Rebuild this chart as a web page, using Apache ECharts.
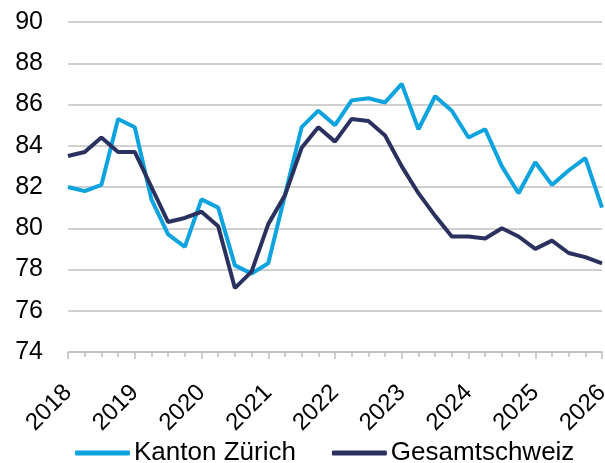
<!DOCTYPE html>
<html>
<head>
<meta charset="utf-8">
<script src="https://cdn.jsdelivr.net/npm/echarts@6/dist/echarts.min.js"></script>
<style>
  html, body { margin: 0; padding: 0; background: #fff; }
  #chart { width: 605px; height: 463px; }
</style>
</head>
<body>
<div id="chart"></div>
<script>
// Quartale 2018 Q1 bis 2026 Q1
var quarters = [
  '2018', '2018Q2', '2018Q3', '2018Q4',
  '2019', '2019Q2', '2019Q3', '2019Q4',
  '2020', '2020Q2', '2020Q3', '2020Q4',
  '2021', '2021Q2', '2021Q3', '2021Q4',
  '2022', '2022Q2', '2022Q3', '2022Q4',
  '2023', '2023Q2', '2023Q3', '2023Q4',
  '2024', '2024Q2', '2024Q3', '2024Q4',
  '2025', '2025Q2', '2025Q3', '2025Q4',
  '2026'
];
var kantonZuerich = [
  82.0, 81.8, 82.1, 85.3,
  84.9, 81.4, 79.7, 79.1,
  81.4, 81.0, 78.2, 77.8,
  78.3, 81.6, 84.9, 85.7,
  85.0, 86.2, 86.3, 86.1,
  87.0, 84.8, 86.4, 85.7,
  84.4, 84.8, 83.0, 81.7,
  83.2, 82.1, 82.8, 83.4,
  81.0
];
var gesamtschweiz = [
  83.5, 83.7, 84.4, 83.7,
  83.7, 82.0, 80.3, 80.5,
  80.8, 80.1, 77.1, 77.9,
  80.2, 81.6, 83.9, 84.9,
  84.2, 85.3, 85.2, 84.5,
  83.0, 81.7, 80.6, 79.6,
  79.6, 79.5, 80.0, 79.6,
  79.0, 79.4, 78.8, 78.6,
  78.3
];
var seriesNames = ['Kanton Zürich', 'Gesamtschweiz'];

(function () {
  var myChart = echarts.init(document.getElementById('chart'));
  var font = 'Liberation Sans, Arial, sans-serif';
  var axisGrey = '#bfbfbf';
  var option = {
    animation: false,
    color: ['#0ca3df', '#2b315f'],
    grid: { left: 68, right: 3, top: 22, bottom: 111, outerBoundsMode: 'none' },
    legend: {
      data: seriesNames,
      top: 440,
      left: 75,
      padding: 0,
      icon: 'roundRect',
      itemWidth: 55,
      itemHeight: 5,
      itemGap: 36,
      textStyle: { fontFamily: font, fontSize: 26, color: '#000', padding: [0, 0, 0, -1] }
    },
    xAxis: [
      {
        type: 'category',
        data: quarters,
        boundaryGap: false,
        axisLine: { lineStyle: { color: axisGrey, width: 1.5 } },
        axisTick: { show: true, interval: 0, length: 5, lineStyle: { color: axisGrey, width: 1.5 } },
        axisLabel: {
          interval: 3,
          rotate: 45,
          margin: 37,
          fontFamily: font,
          fontSize: 24,
          color: '#000',
          formatter: function (v) { return v.slice(0, 4); }
        },
        splitLine: { show: false }
      },
      {
        // etwas längere Striche an den Jahresanfängen
        type: 'category',
        data: quarters,
        position: 'bottom',
        boundaryGap: false,
        axisLine: { show: false },
        axisTick: { show: true, interval: 3, length: 7, lineStyle: { color: axisGrey, width: 1.5 } },
        axisLabel: { show: false },
        splitLine: { show: false }
      }
    ],
    yAxis: {
      type: 'value',
      min: 74,
      max: 90,
      interval: 2,
      axisLine: { show: false },
      axisTick: { show: false },
      axisLabel: { fontFamily: font, fontSize: 25, color: '#000', margin: 25 },
      splitLine: { lineStyle: { color: '#c0c0c0', width: 1.5 } }
    },
    series: [
      {
        name: seriesNames[0],
        type: 'line',
        data: kantonZuerich,
        symbol: 'none',
        lineStyle: { width: 4 }
      },
      {
        name: seriesNames[1],
        type: 'line',
        data: gesamtschweiz,
        symbol: 'none',
        lineStyle: { width: 4 }
      }
    ]
  };
  myChart.setOption(option);
})();
</script>
</body>
</html>
